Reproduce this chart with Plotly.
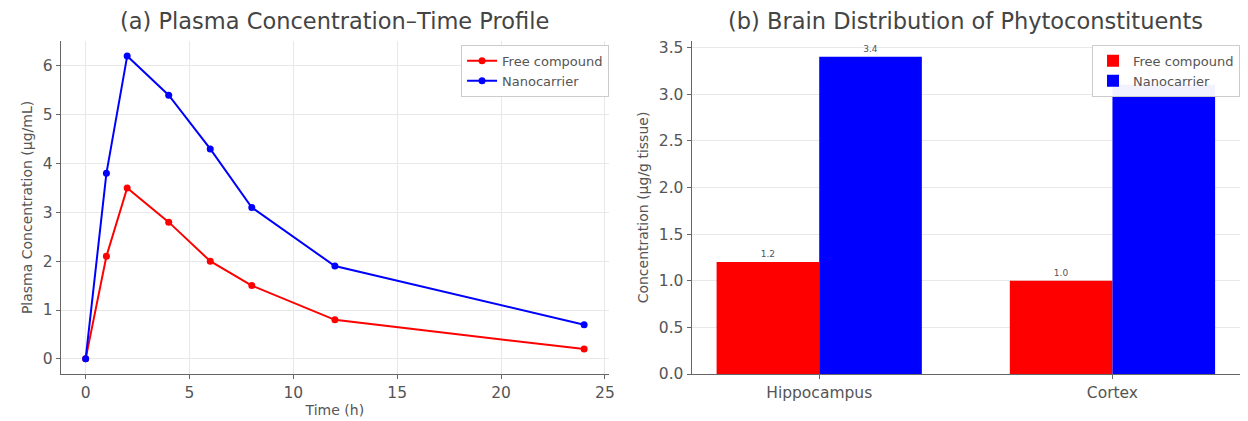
import plotly.graph_objects as go

time_h = [0, 1, 2, 4, 6, 8, 12, 24]
free_plasma = [0, 2.1, 3.5, 2.8, 2.0, 1.5, 0.8, 0.2]
nano_plasma = [0, 3.8, 6.2, 5.4, 4.3, 3.1, 1.9, 0.7]

regions = ["Hippocampus", "Cortex"]
free_brain = [1.2, 1.0]
nano_brain = [3.4, 3.1]
# value labels shown in the reference (the Cortex nanocarrier label is hidden behind the legend)
free_labels = ["1.2", "1.0"]
nano_labels = ["3.4", ""]

W, H = 1248, 421
FONT = "DejaVu Sans"
TXT = "#555555"
GRID = "#e8e8e8"
AX = "#666666"

def px_x(a, b):
    return [a / W, b / W]

def px_y(top, bottom):
    return [(H - bottom) / H, (H - top) / H]

fig = go.Figure()

fig.add_trace(go.Scatter(x=time_h, y=free_plasma, mode="lines+markers", name="Free compound",
                         line=dict(color="#ff0000", width=2), marker=dict(color="#ff0000", size=7),
                         xaxis="x", yaxis="y", legend="legend"))
fig.add_trace(go.Scatter(x=time_h, y=nano_plasma, mode="lines+markers", name="Nanocarrier",
                         line=dict(color="#0000ff", width=2), marker=dict(color="#0000ff", size=7),
                         xaxis="x", yaxis="y", legend="legend"))

fig.add_trace(go.Bar(x=regions, y=free_brain, name="Free compound", marker=dict(color="#ff0000", line=dict(width=0)),
                     text=free_labels, textposition="outside", textfont=dict(size=9, color=TXT),
                     cliponaxis=False, xaxis="x2", yaxis="y2", legend="legend2"))
fig.add_trace(go.Bar(x=regions, y=nano_brain, name="Nanocarrier", marker=dict(color="#0000ff", line=dict(width=0)),
                     text=nano_labels, textposition="outside", textfont=dict(size=9, color=TXT),
                     cliponaxis=False, xaxis="x2", yaxis="y2", legend="legend2"))

axis_common = dict(showline=True, linecolor=AX, linewidth=1.2, ticks="outside", ticklen=4,
                   tickcolor=AX, tickfont=dict(size=15.5, color=TXT), zeroline=False, mirror=False)

fig.update_layout(
    width=W, height=H, margin=dict(l=0, r=0, t=0, b=0),
    paper_bgcolor="white", plot_bgcolor="white",
    font=dict(family=FONT, color=TXT),
    barmode="group", bargap=0.3, bargroupgap=0,
    xaxis=dict(domain=px_x(61, 612), anchor="y", range=[-1.2, 25.2], tickvals=[0, 5, 10, 15, 20, 25],
               showgrid=True, gridcolor=GRID,
               title=dict(text="Time (h)", font=dict(size=14, color=TXT), standoff=4), **axis_common),
    yaxis=dict(domain=px_y(40, 382), anchor="x", range=[-0.31, 6.51], tickvals=[0, 1, 2, 3, 4, 5, 6],
               showgrid=True, gridcolor=GRID,
               title=dict(text="Plasma Concentration (µg/mL)", font=dict(size=14, color=TXT), standoff=6), **axis_common),
    xaxis2=dict(domain=px_x(695, 1246), anchor="y2", type="category", range=[-0.435, 1.435],
                showgrid=False, title=None, **axis_common),
    yaxis2=dict(domain=px_y(40, 382), anchor="x2", range=[0, 3.57], tickvals=[0, 0.5, 1, 1.5, 2, 2.5, 3, 3.5],
                tickformat=".1f", showgrid=True, gridcolor=GRID,
                title=dict(text="Concentration (µg/g tissue)", font=dict(size=14, color=TXT), standoff=6), **axis_common),
    legend=dict(x=612 / W, xanchor="right", y=(H - 44) / H, yanchor="top", bgcolor="rgba(255,255,255,0.95)",
                bordercolor="#cccccc", borderwidth=1, font=dict(size=13, color=TXT), tracegroupgap=0),
    legend2=dict(x=1246 / W, xanchor="right", y=(H - 44) / H, yanchor="top", bgcolor="rgba(255,255,255,0.95)",
                 bordercolor="#cccccc", borderwidth=1, font=dict(size=13, color=TXT), tracegroupgap=0),
    annotations=[
        dict(text="(a) Plasma Concentration–Time Profile", x=(61 + 612) / 2 / W, y=(H - 20) / H,
             xref="paper", yref="paper", xanchor="center", yanchor="middle", showarrow=False,
             font=dict(size=22.5, color="#444444")),
        dict(text="(b) Brain Distribution of Phytoconstituents", x=(695 + 1246) / 2 / W, y=(H - 20) / H,
             xref="paper", yref="paper", xanchor="center", yanchor="middle", showarrow=False,
             font=dict(size=22.5, color="#444444")),
    ],
)

fig.write_html("out.html")
